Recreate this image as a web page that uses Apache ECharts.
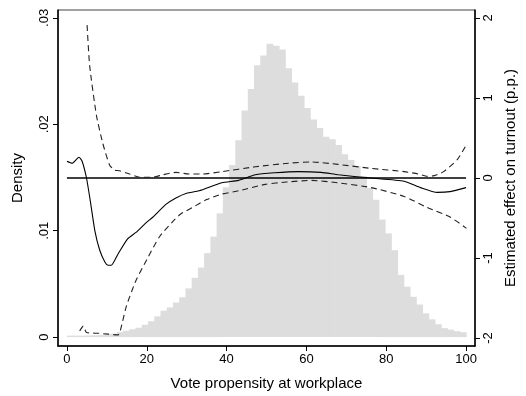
<!DOCTYPE html>
<html>
<head>
<meta charset="utf-8">
<script src="https://cdn.jsdelivr.net/npm/echarts@6/dist/echarts.min.js"></script>
<style>
html, body { margin: 0; padding: 0; background: #fff; }
#chart { width: 526px; height: 396px; }
</style>
</head>
<body>
<div id="chart"></div>
<script>
// histogram of vote propensity, 64 bins between 0 and 100
var binCount = 64;
var density = [
	0.00014, 0.00014, 0.00014, 0.00016, 0.00017, 0.00019, 0.00023, 0.00032,
	0.00046, 0.00060, 0.00074, 0.00088, 0.00116, 0.00149, 0.00195, 0.00248,
	0.00279, 0.00325, 0.00374, 0.00458, 0.00557, 0.00653, 0.00789, 0.00944,
	0.01163, 0.01409, 0.01618, 0.01850, 0.02129, 0.02331, 0.02556, 0.02646,
	0.02758, 0.02739, 0.02702, 0.02526, 0.02393, 0.02268, 0.02154, 0.02045,
	0.01966, 0.01882, 0.01860, 0.01806, 0.01718, 0.01665, 0.01606, 0.01513,
	0.01402, 0.01291, 0.01105, 0.00975, 0.00817, 0.00585, 0.00474, 0.00379,
	0.00306, 0.00223, 0.00167, 0.00121, 0.00084, 0.00070, 0.00056, 0.00046
];

// estimated effect on turnout (p.p.)
var estX = [0, 1.3, 3, 3.8, 4.9, 5.8, 7, 8.2, 9.5, 10.3, 11.1, 12.8, 15.2, 17.3, 19.8, 21.5, 24.8, 27.3, 30, 33.1, 38.8, 43, 47.2, 52, 58, 63.7, 68, 76, 84.5, 88.6, 92.8, 96, 100];
var estY = [0.21, 0.185, 0.26, 0.21, 0, -0.27, -0.66, -0.9, -1.05, -1.09, -1.09, -0.95, -0.76, -0.68, -0.56, -0.49, -0.33, -0.25, -0.19, -0.16, -0.06, -0.03, 0.04, 0.065, 0.08, 0.07, 0.04, 0, -0.04, -0.12, -0.18, -0.17, -0.12];

// upper confidence bound
var upX = [5.05, 5.7, 7.4, 9, 10.7, 11.9, 13.2, 15.7, 18.2, 21.5, 24, 27.3, 30.6, 34, 38.9, 47.2, 55.5, 61.3, 67.9, 76.2, 84.5, 88, 90.3, 92, 94.4, 97.8, 99.8];
var upY = [1.91, 1.40, 0.78, 0.43, 0.16, 0.10, 0.09, 0.05, 0.01, 0.01, 0.04, 0.07, 0.05, 0.05, 0.08, 0.14, 0.185, 0.2, 0.17, 0.12, 0.08, 0.05, 0.02, 0.03, 0.08, 0.23, 0.39];

// lower confidence bound
var loX = [3.2, 4.1, 4.9, 8, 12.8, 13.4, 14.9, 17.3, 20, 23.1, 26.4, 28.5, 31.4, 35, 38.9, 43, 49.7, 55, 61.3, 67.9, 76.2, 84.5, 90.3, 96.1, 100.1];
var loY = [-1.91, -1.85, -1.93, -1.94, -1.96, -1.9, -1.6, -1.28, -1.02, -0.74, -0.55, -0.45, -0.37, -0.27, -0.2, -0.16, -0.08, -0.05, -0.03, -0.06, -0.12, -0.23, -0.37, -0.49, -0.63];

var xTicks = [0, 20, 40, 60, 80, 100];
var densTicks = [0, 0.01, 0.02, 0.03];
var effTicks = [-2, -1, 0, 1, 2];

function pairs(xs, ys){
	var out = [];
	for(var i = 0; i < xs.length; i++){
		out.push([xs[i], ys[i]]);
	}
	return out;
}

var binW = 100 / binCount;
var histData = [];
for(var i = 0; i < density.length; i++){
	histData.push([i * binW, (i + 1) * binW, density[i]]);
}

var font = '"Liberation Sans", Arial, sans-serif';
var axisLineStyle = { color: '#000', width: 1.5 };

var myChart = echarts.init(document.getElementById('chart'));
var option = {
	animation: false,
	grid: {
		left: 58, right: 48, top: 10, bottom: 46,
		show: true,
		borderColor: '#444',
		borderWidth: 1
	},
	xAxis: {
		type: 'value',
		min: -2.24,
		max: 102.24,
		name: 'Vote propensity at workplace',
		nameLocation: 'middle',
		nameGap: 30,
		nameTextStyle: { fontFamily: font, fontSize: 15, color: '#000' },
		axisLine: { show: true, onZero: false, lineStyle: axisLineStyle },
		axisTick: { show: true, length: 5, customValues: xTicks, lineStyle: { color: '#000' } },
		axisLabel: { customValues: xTicks, fontFamily: font, fontSize: 13, color: '#000', margin: 7 },
		splitLine: { show: false }
	},
	yAxis: [{
		type: 'value',
		position: 'left',
		min: -0.000836,
		max: 0.030743,
		name: 'Density',
		nameLocation: 'middle',
		nameRotate: 90,
		nameGap: 33,
		nameTextStyle: { fontFamily: font, fontSize: 15, color: '#000' },
		axisLine: { show: true, onZero: false, lineStyle: axisLineStyle },
		axisTick: { show: true, length: 5, customValues: densTicks, lineStyle: { color: '#000' } },
		axisLabel: {
			customValues: densTicks,
			rotate: 90,
			fontFamily: font, fontSize: 13, color: '#000', margin: 7,
			formatter: function(v){
				return v === 0 ? '0' : ('.' + Math.round(v * 100).toString().padStart(2, '0'));
			}
		},
		splitLine: { show: false }
	}, {
		type: 'value',
		position: 'right',
		min: -2.0988,
		max: 2.0988,
		name: 'Estimated effect on turnout (p.p.)',
		nameLocation: 'middle',
		nameRotate: 90,
		nameGap: 28,
		nameTextStyle: { fontFamily: font, fontSize: 15, color: '#000' },
		axisLine: { show: true, onZero: false, lineStyle: axisLineStyle },
		axisTick: { show: true, length: 5, customValues: effTicks, lineStyle: { color: '#000' } },
		axisLabel: { customValues: effTicks, rotate: 90, fontFamily: font, fontSize: 13, color: '#000', margin: 7 },
		splitLine: { show: false }
	}],
	series: [{
		type: 'custom',
		xAxisIndex: 0,
		yAxisIndex: 0,
		data: histData,
		encode: { x: [0, 1], y: 2 },
		renderItem: function(params, api){
			var p0 = api.coord([api.value(0), 0]);
			var p1 = api.coord([api.value(1), api.value(2)]);
			return {
				type: 'rect',
				shape: { x: p0[0], y: p1[1], width: p1[0] - p0[0] + 0.6, height: p0[1] - p1[1] },
				style: { fill: '#dddddd' }
			};
		},
		silent: true
	}, {
		type: 'line',
		yAxisIndex: 1,
		data: [[0, 0], [100, 0]],
		symbol: 'none',
		lineStyle: { color: '#000', width: 1.6 },
		silent: true
	}, {
		type: 'line',
		yAxisIndex: 1,
		data: pairs(upX, upY),
		symbol: 'none',
		smooth: 0.2,
		lineStyle: { color: '#222', width: 1.1, type: [6, 4] }
	}, {
		type: 'line',
		yAxisIndex: 1,
		data: pairs(loX, loY),
		symbol: 'none',
		smooth: 0.2,
		lineStyle: { color: '#222', width: 1.1, type: [6, 4] }
	}, {
		type: 'line',
		yAxisIndex: 1,
		data: pairs(estX, estY),
		symbol: 'none',
		smooth: 0.2,
		lineStyle: { color: '#000', width: 1.1 }
	}]
};
myChart.setOption(option);
</script>
</body>
</html>
